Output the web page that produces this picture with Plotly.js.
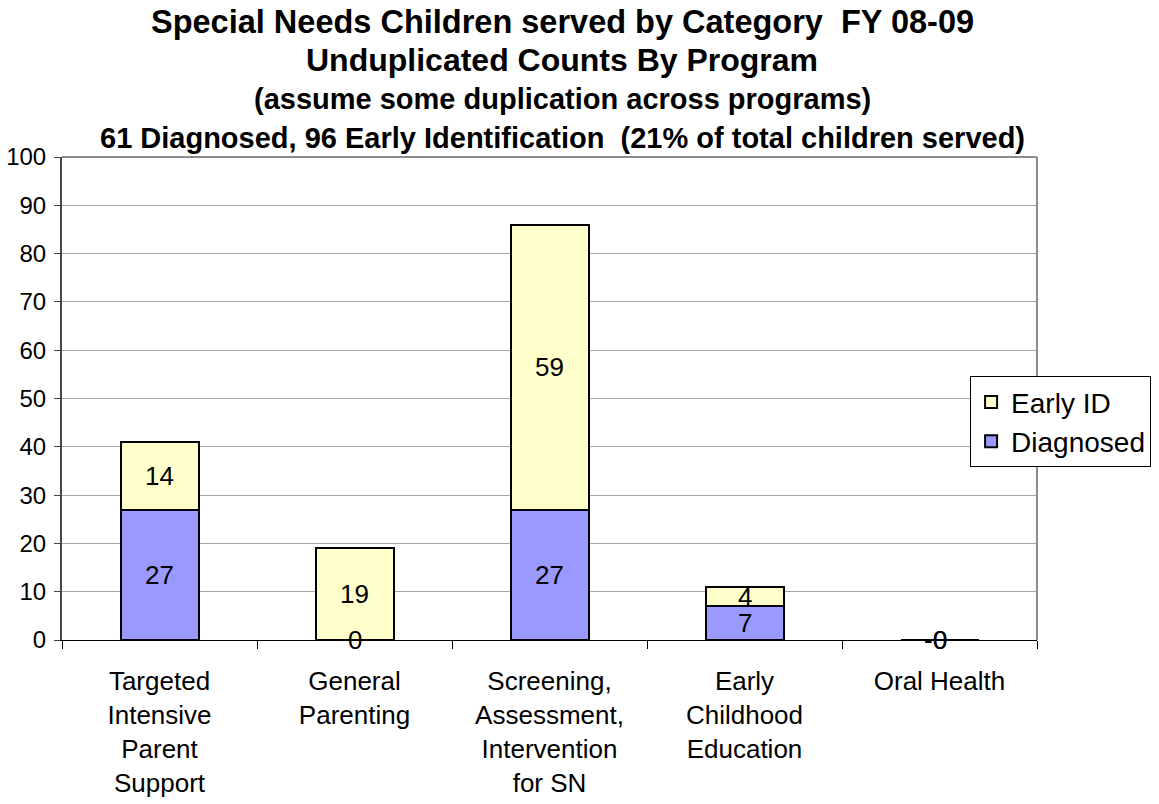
<!DOCTYPE html>
<html>
<head>
<meta charset="utf-8">
<script src="https://cdn.plot.ly/plotly-3.0.1.min.js"></script>
<style>html,body{margin:0;padding:0;background:#fff;}#chart{width:1159px;height:804px;}</style>
</head>
<body>
<div id="chart"></div>
<script>
const categories = [
  "Targeted<br>Intensive<br>Parent<br>Support",
  "General<br>Parenting",
  "Screening,<br>Assessment,<br>Intervention<br>for SN",
  "Early<br>Childhood<br>Education",
  "Oral Health"
];
const diagnosed = [27, 0, 27, 7, 0];
const earlyID = [14, 19, 59, 4, 0];
const diagnosedLabels = ["27", "0", "27", "7", "0"];
const earlyIDLabels = ["14", "19", "59", "4", "-0"];
const titleLines = [
  "Special Needs Children served by Category  FY 08-09",
  "Unduplicated Counts By Program",
  "(assume some duplication across programs)",
  "61 Diagnosed, 96 Early Identification  (21% of total children served)"
];
const yTicks = [0,10,20,30,40,50,60,70,80,90,100];

const FONT = "Liberation Sans, Arial, sans-serif";

const traces = [
  {type:"bar", name:"Diagnosed", x:categories, y:diagnosed,
   marker:{color:"#9999FF", line:{color:"#000", width:2}}, width:0.4},
  {type:"bar", name:"Early ID", x:categories, y:earlyID,
   marker:{color:"#FFFFCC", line:{color:"#000", width:2}}, width:0.4}
];

const annotations = [];
function lbl(c, y, t){
  return {x:c, y:y, xref:"x", yref:"y", text:t, showarrow:false,
    xshift: t.charAt(0)==="-" ? -4 : 0,
    font:{family:FONT,size:26,color:"#000"}};
}
categories.forEach((c,i)=>{
  annotations.push(lbl(c, diagnosed[i]/2, diagnosedLabels[i]));
  annotations.push(lbl(c, diagnosed[i]+earlyID[i]/2, earlyIDLabels[i]));
});
const titleY = [22, 60, 99, 138];
const titleSize = [32.5, 32, 29, 29];
titleLines.forEach((t,i)=>{
  annotations.push({x:0.513, xref:"paper", y:(640-titleY[i])/483, yref:"paper", yanchor:"middle",
    text:"<b>"+t+"</b>", showarrow:false, font:{family:FONT,size:titleSize[i],color:"#000"}});
});

const layout = {
  width:1159, height:804,
  margin:{l:62, r:122, t:157, b:164, pad:0, autoexpand:false},
  paper_bgcolor:"#fff", plot_bgcolor:"#fff",
  barmode:"stack",
  showlegend:true,
  legend:{xref:"container", yref:"container", x:0.837, xanchor:"left", y:0.532, yanchor:"top",
    traceorder:"reversed",
    bordercolor:"#000", borderwidth:1, font:{family:FONT,size:28,color:"#000"},
    bgcolor:"#fff", itemwidth:30, tracegroupgap:0},
  xaxis:{type:"category", tickson:"boundaries", ticks:"outside", ticklen:8, tickcolor:"#000",
    showline:true, linecolor:"#000", linewidth:1, mirror:false, showgrid:false,
    tickfont:{family:FONT,size:26,color:"#000"}, tickangle:0, automargin:false,
    ticklabelstandoff:18},
  yaxis:{range:[0,100], tickvals:yTicks, ticktext:yTicks.map(String), ticks:"outside", ticklen:6,
    tickcolor:"#444", showline:true, linecolor:"#444", linewidth:2,
    showgrid:true, gridcolor:"#a6a6a6", gridwidth:1, zeroline:false,
    tickfont:{family:FONT,size:24,color:"#000"}, automargin:false, ticklabelstandoff:3},
  shapes:[
    {type:"line", xref:"paper", yref:"paper", x0:1, x1:1, y0:0, y1:1, line:{color:"#8c8c8c", width:2}},
    {type:"line", xref:"paper", yref:"paper", x0:0, x1:1, y0:1, y1:1, line:{color:"#8c8c8c", width:2}}
  ],
  annotations:annotations
};

Plotly.newPlot("chart", traces, layout, {displayModeBar:false, staticPlot:true});
</script>
</body>
</html>
